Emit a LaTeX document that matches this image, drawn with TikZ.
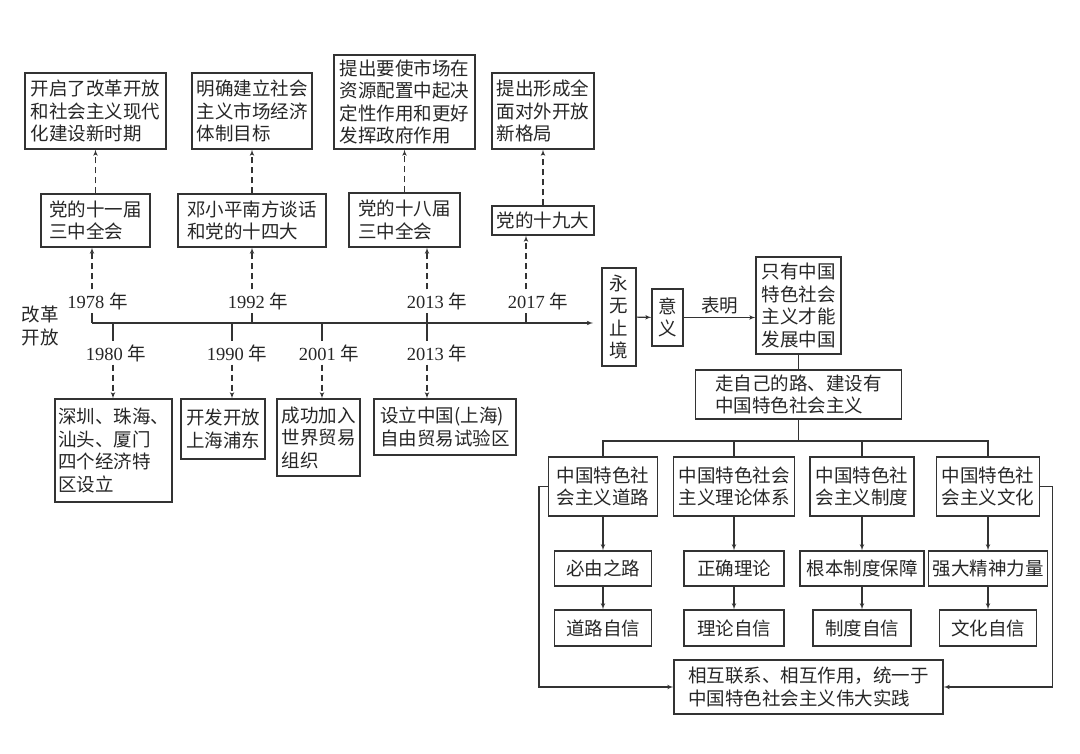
\documentclass[tikz,border=0pt]{standalone}
\usepackage{fontspec}
\setmainfont{Liberation Serif}
\newfontfamily\cjk{Noto Sans CJK SC}
\usepackage{tikz}
\usetikzlibrary{arrows}

\begin{document}
\begin{tikzpicture}[x=1pt, y=-1pt,
			box/.style={draw=black!80, line width=1.1pt, align=left, inner sep=3pt,
				text=black!85, font=\cjk\fontsize{18.5}{22.5}\selectfont},
			boxsize/.style 2 args={minimum width=#1pt, minimum height=#2pt},
			lab/.style={text=black!85, font=\cjk\fontsize{18.5}{22.5}\selectfont},
			year/.style={text=black!85, inner sep=3pt, font=\fontsize{18.5}{22.5}\selectfont},
			line/.style={draw=black!80, line width=1.1pt},
			dline/.style={line, dash pattern=on 6pt off 4pt},
			>=latex']
	\useasboundingbox (0,0) rectangle (1080,754);

	\node[box, boxsize={141}{76}] (A1) at (95.5,111) {开启了改革开放\\和社会主义现代\\化建设新时期};
	\node[box, boxsize={120}{76}] (A2) at (252,111) {明确建立社会\\主义市场经济\\体制目标};
	\node[box, boxsize={141}{94}] (A3) at (404.5,102) {提出要使市场在\\资源配置中起决\\定性作用和更好\\发挥政府作用};
	\node[box, boxsize={102}{76}] (A4) at (543,111) {提出形成全\\面对外开放\\新格局};

	\node[box, boxsize={109}{53}] (B1) at (95.5,220.5) {党的十一届\\三中全会};
	\node[box, boxsize={148}{53}] (B2) at (252,220.5) {邓小平南方谈话\\和党的十四大};
	\node[box, boxsize={111}{54}] (B3) at (404.5,220) {党的十八届\\三中全会};
	\node[box, boxsize={102}{29}] (B4) at (543,220.5) {党的十九大};

	\node[box, boxsize={115}{103}] (C1) at (113.5,450.5) {深圳、珠海、\\汕头、厦门\\四个经济特\\区设立};
	\node[box, boxsize={84}{60}] (C2) at (223,429) {开发开放\\上海浦东};
	\node[box, boxsize={83}{77}] (C3) at (318.5,437.5) {成功加入\\世界贸易\\组织};
	\node[box, boxsize={142}{56}] (C4) at (445,427) {设立中国(上海)\\自由贸易试验区};

	\node[lab, align=center] (gg) at (40,326) {改革\\开放};

	\coordinate (t0) at (92,323);
	\coordinate (tend) at (593,323);
	\draw[line, ->] (t0) -- (tend);

	\foreach \x/\lx/\yr/\bx in {92/97.5/1978/B1, 252/258/1992/B2, 427/437/2013/B3, 526/538/2017/B4}
	{
		\coordinate (u\yr) at (\x,323);
		\node[year] (lu\yr) at (\lx,301) {\yr\ {\cjk 年}};
		\draw[line] (u\yr) -- (u\yr |- lu\yr.south);
		\draw[dline, ->] (u\yr |- lu\yr.north) -- (u\yr |- \bx.south);
	}
	\foreach \x/\lx/\yr/\bx in {113/116/1980/C1, 232/237/1990/C2, 322/329/2001/C3, 427/437/2013/C4}
	{
		\coordinate (d\yr) at (\x,323);
		\node[year] (ld\yr) at (\lx,353) {\yr\ {\cjk 年}};
		\draw[line] (d\yr) -- (d\yr |- ld\yr.north);
		\draw[dline, ->] (d\yr |- ld\yr.south) -- (d\yr |- \bx.north);
	}
	\foreach \i in {1,...,4}
		\draw[dline, ->] (B\i) -- (A\i);

	\node[box, align=center, boxsize={34}{98}] (YW) at (619,317) {永\\无\\止\\境};
	\node[box, align=center, boxsize={31}{57}] (YY) at (667.5,317.5) {意\\义};
	\node[box, boxsize={85}{97}] (ZY) at (798.5,305.5) {只有中国\\特色社会\\主义才能\\发展中国};
	\node[box, boxsize={206}{49}] (ZJ) at (798.5,394.5) {走自己的路、建设有\\中国特色社会主义};

	\draw[line, ->] (YW) -- (YY);
	\draw[line, ->] (YY) -- (YY -| ZY.west) node[lab, midway, above] {表明};
	\draw[line] (ZY) -- (ZJ);

	\node[box, boxsize={109}{59}] (D1) at (603,486.5) {中国特色社\\会主义道路};
	\node[box, boxsize={121}{59}] (D2) at (734,486.5) {中国特色社会\\主义理论体系};
	\node[box, boxsize={104}{59}] (D3) at (862,486.5) {中国特色社\\会主义制度};
	\node[box, boxsize={103}{59}] (D4) at (988,486.5) {中国特色社\\会主义文化};

	\node[box, boxsize={97}{35}] (E1) at (603,568.5) {必由之路};
	\node[box, boxsize={100}{35}] (E2) at (734,568.5) {正确理论};
	\node[box, boxsize={124}{35}] (E3) at (862,568.5) {根本制度保障};
	\node[box, boxsize={119}{35}] (E4) at (988,568.5) {强大精神力量};

	\node[box, boxsize={97}{36}] (F1) at (603,628) {道路自信};
	\node[box, boxsize={100}{36}] (F2) at (734,628) {理论自信};
	\node[box, boxsize={98}{36}] (F3) at (862,628) {制度自信};
	\node[box, boxsize={97}{36}] (F4) at (988,628) {文化自信};

	\node[box, boxsize={269}{54}] (G) at (808.5,687) {相互联系、相互作用，统一于\\中国特色社会主义伟大实践};

	\coordinate (bus) at (798.5,441);
	\draw[line] (ZJ) -- (bus);
	\foreach \i in {1,...,4}
	{
		\draw[line] (D\i.north) |- (bus);
		\draw[line, ->] (D\i) -- (E\i);
		\draw[line, ->] (E\i) -- (F\i);
	}
	\draw[line, ->] (D1.west) -- ++(-9,0) |- (G.west);
	\draw[line, ->] (D4.east) -- ++(12,0) |- (G.east);
\end{tikzpicture}
\end{document}
